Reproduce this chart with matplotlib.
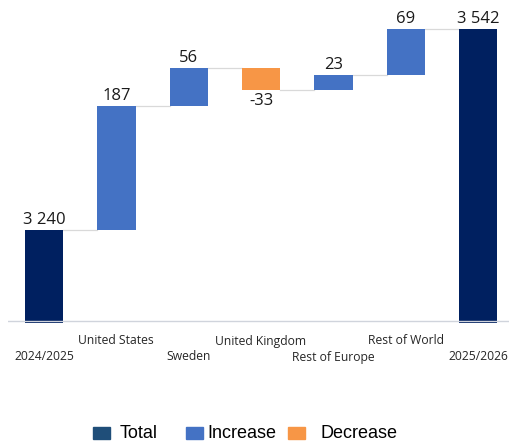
import matplotlib
matplotlib.use("Agg")
import matplotlib.pyplot as plt
from matplotlib.patches import Rectangle

# Waterfall data
categories = ["2024/2025", "United States", "Sweden", "United Kingdom",
              "Rest of Europe", "Rest of World", "2025/2026"]
start_total = 3240
changes = [187, 56, -33, 23, 69]
end_total = 3542
value_labels = ["3 240", "187", "56", "-33", "23", "69", "3 542"]

c_total = "#002060"
c_total_legend = "#1F4E79"
c_inc = "#4472C4"
c_dec = "#F79646"
c_conn = "#D9D9D9"

W, H = 510, 441
fig = plt.figure(figsize=(W / 100, H / 100), dpi=100)
# plot area: x 8..510 px, y 0..323 px (from top)
ax = fig.add_axes([8 / W, 1 - 323 / H, (510 - 8) / W, 323 / H])

y_min, y_max = 3100, 3586
ax.set_ylim(y_min, y_max)
ax.set_xlim(-0.498, 6.44)
bar_w = 0.53

font_val = "Open Sans"

# running levels
levels = [start_total]
for ch in changes:
    levels.append(levels[-1] + ch)

# opening total
ax.bar(0, start_total, bottom=0, width=bar_w, color=c_total, zorder=2)
for i, ch in enumerate(changes, start=1):
    base = levels[i - 1]
    col = c_inc if ch >= 0 else c_dec
    ax.bar(i, ch, bottom=base, width=bar_w, color=col, zorder=2)
# closing total
ax.bar(6, end_total, bottom=0, width=bar_w, color=c_total, zorder=2)

# connector lines between consecutive bars
for i in range(6):
    lvl = levels[i]
    ax.plot([i + bar_w / 2, i + 1 - bar_w / 2], [lvl, lvl],
            color=c_conn, lw=0.9, zorder=1)

# baseline
ax.axhline(y_min + 3, color="#D0D4DC", lw=1.0, zorder=3)

# value labels
px = (y_max - y_min) / 323.0  # data units per pixel
for i, lab in enumerate(value_labels):
    if i == 0:
        y, va = start_total, "bottom"
    elif i == 6:
        y, va = end_total, "bottom"
    else:
        ch = changes[i - 1]
        if ch >= 0:
            y, va = levels[i], "bottom"
        else:
            y, va = levels[i - 1] + ch, "top"
    off = 2 * px if va == "bottom" else -3 * px
    ax.text(i, y + off, lab, ha="center", va=va, fontsize=12,
            family=font_val, color="#1a1a1a")

# staggered category labels
for i, cat in enumerate(categories):
    ypix = 357 if i % 2 == 0 else 341
    fig.text(i * 72.33 / W + 44 / W, 1 - ypix / H, cat, ha="center",
             va="center", fontsize=8.7, family=font_val, color="#262626")

for s in ax.spines.values():
    s.set_visible(False)
ax.set_xticks([])
ax.set_yticks([])

# legend drawn by hand
leg_y = 433
leg_items = [(93, 120, c_total_legend, "Total"),
             (186, 207, c_inc, "Increase"),
             (288, 321, c_dec, "Decrease")]
for px0, tx, col, txt in leg_items:
    fig.patches.append(Rectangle((px0 / W, 1 - (leg_y + 6) / H), 17 / W, 12 / H,
                                 transform=fig.transFigure, color=col))
    fig.text(tx / W, 1 - leg_y / H, txt, ha="left", va="center",
             fontsize=13, family="Liberation Sans", color="#000000")

fig.savefig("out.png", dpi=100)
